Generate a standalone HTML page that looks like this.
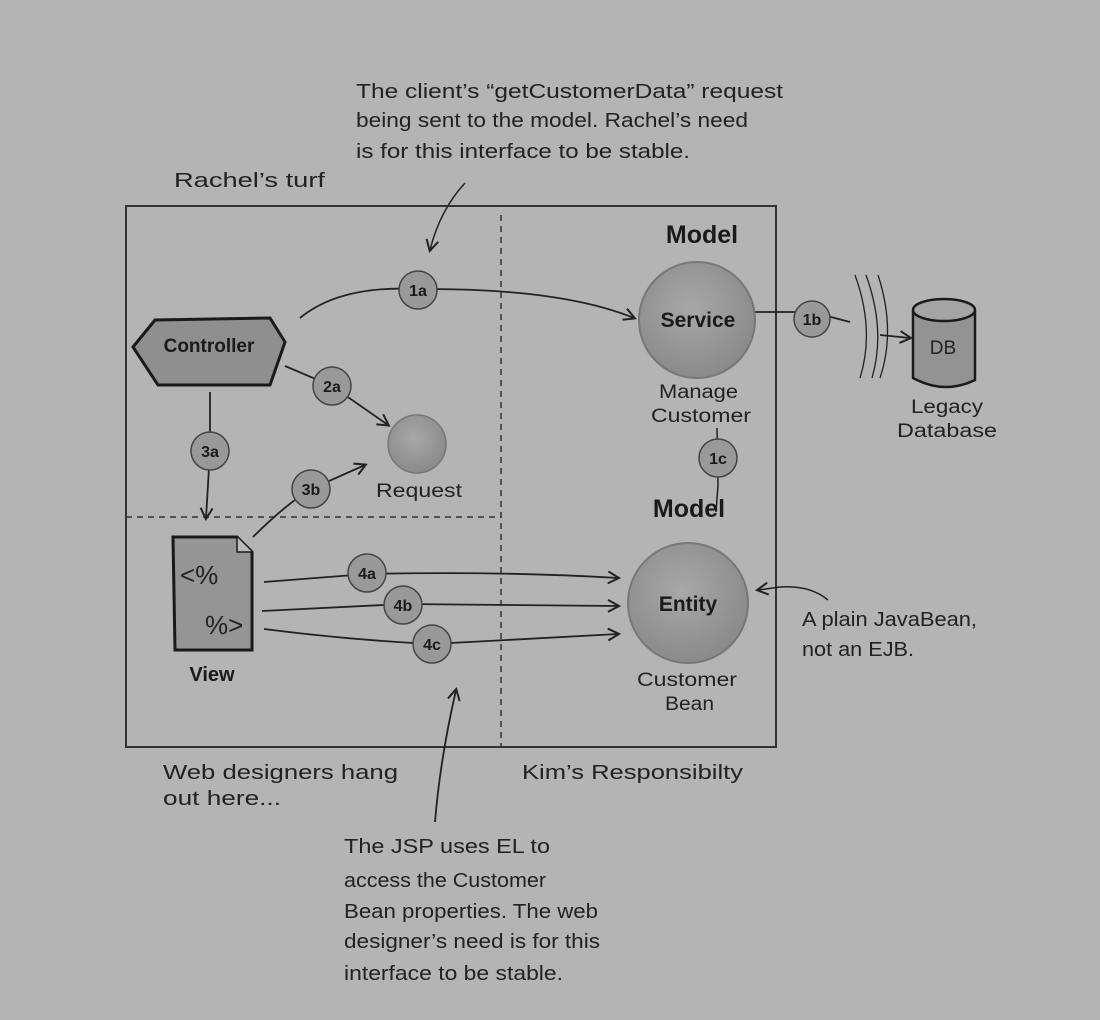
<!DOCTYPE html>
<html><head><style>
html,body{margin:0;padding:0;background:#b4b4b4;}
svg{display:block}
.h{font-family:"Liberation Sans",sans-serif;fill:#222;}
.b{font-family:"Liberation Sans",sans-serif;font-weight:bold;fill:#1a1a1a;}
</style></head><body>
<svg width="1100" height="1020" viewBox="0 0 1100 1020" xmlns="http://www.w3.org/2000/svg">
<defs>
<radialGradient id="g" cx="45%" cy="40%" r="60%"><stop offset="0" stop-color="#a8a8a8"/><stop offset="1" stop-color="#8a8a8a"/></radialGradient>
<marker id="a" markerWidth="14" markerHeight="14" refX="11" refY="7" orient="auto" markerUnits="userSpaceOnUse"><path d="M1,1 L12,7 L1,13" fill="none" stroke="#222" stroke-width="2"/></marker>
</defs>
<rect x="0" y="0" width="1100" height="1020" fill="#b4b4b4"/>
<rect x="126" y="206" width="650" height="541" fill="none" stroke="#333" stroke-width="2"/>
<line x1="501" y1="215" x2="501" y2="747" stroke="#333" stroke-width="1.5" stroke-dasharray="6,5"/>
<line x1="126" y1="517" x2="501" y2="517" stroke="#333" stroke-width="1.5" stroke-dasharray="6,5"/>

<g class="h" font-size="20" lengthAdjust="spacingAndGlyphs">
<text x="356" y="98" textLength="427" lengthAdjust="spacingAndGlyphs">The client’s “getCustomerData” request</text>
<text x="356" y="127" textLength="392" lengthAdjust="spacingAndGlyphs">being sent to the model.  Rachel’s need</text>
<text x="356" y="158" textLength="334" lengthAdjust="spacingAndGlyphs">is for this interface to be stable.</text>
<text x="174" y="187" textLength="151" lengthAdjust="spacingAndGlyphs">Rachel’s turf</text>
<text x="802" y="626" textLength="175" lengthAdjust="spacingAndGlyphs">A plain JavaBean,</text>
<text x="802" y="656" textLength="112" lengthAdjust="spacingAndGlyphs">not an EJB.</text>
<text x="163" y="779" textLength="235" lengthAdjust="spacingAndGlyphs">Web designers hang</text>
<text x="163" y="805" textLength="118" lengthAdjust="spacingAndGlyphs">out here...</text>
<text x="522" y="779" textLength="221" lengthAdjust="spacingAndGlyphs">Kim’s Responsibilty</text>
<text x="344" y="853" textLength="206" lengthAdjust="spacingAndGlyphs">The JSP uses EL to</text>
<text x="344" y="887" textLength="202" lengthAdjust="spacingAndGlyphs">access the Customer</text>
<text x="344" y="918" textLength="254" lengthAdjust="spacingAndGlyphs">Bean properties. The web</text>
<text x="344" y="948" textLength="256" lengthAdjust="spacingAndGlyphs">designer’s need is for this</text>
<text x="344" y="980" textLength="219" lengthAdjust="spacingAndGlyphs">interface to be stable.</text>
</g>
<path d="M465,183 Q440,210 430,250" fill="none" stroke="#222" stroke-width="1.5" marker-end="url(#a)"/>

<path d="M300,318 Q340,285 418,289 Q560,288 634,318" fill="none" stroke="#222" stroke-width="1.8" marker-end="url(#a)"/>
<path d="M285,366 L332,386 L388,425" fill="none" stroke="#222" stroke-width="1.8" marker-end="url(#a)"/>
<path d="M210,392 L210,451 L206,518" fill="none" stroke="#222" stroke-width="1.8" marker-end="url(#a)"/>
<path d="M253,537 Q285,505 311,489 L365,465" fill="none" stroke="#222" stroke-width="1.8" marker-end="url(#a)"/>
<path d="M264,582 L367,574 Q500,571 618,578" fill="none" stroke="#222" stroke-width="1.8" marker-end="url(#a)"/>
<path d="M262,611 L403,604 L618,606" fill="none" stroke="#222" stroke-width="1.8" marker-end="url(#a)"/>
<path d="M264,629 Q350,640 432,644 L618,634" fill="none" stroke="#222" stroke-width="1.8" marker-end="url(#a)"/>
<path d="M755,312 L812,312 L850,322" fill="none" stroke="#222" stroke-width="1.8"/>
<path d="M880,335 L910,338" fill="none" stroke="#222" stroke-width="1.8" marker-end="url(#a)"/>
<path d="M855,275 Q875,330 860,378 M866,275 Q886,330 872,378 M878,275 Q896,330 880,378" fill="none" stroke="#222" stroke-width="1.3"/>
<path d="M717,428 L718,485 L716,512" fill="none" stroke="#222" stroke-width="1.5"/>
<path d="M828,600 Q810,585 780,587 L758,590" fill="none" stroke="#222" stroke-width="1.5" marker-end="url(#a)"/>
<path d="M435,822 Q440,760 456,690" fill="none" stroke="#222" stroke-width="1.8" marker-end="url(#a)"/>

<polygon points="133,347 155,320 270,318 285,342 270,385 158,385" fill="#8f8f8f" stroke="#1a1a1a" stroke-width="3"/>
<text class="b" font-size="19" x="209" y="352" text-anchor="middle">Controller</text>

<circle cx="417" cy="444" r="29" fill="url(#g)" stroke="#777" stroke-width="1.5"/>
<text class="h" font-size="19" x="376" y="497" textLength="86" lengthAdjust="spacingAndGlyphs">Request</text>

<path d="M173,537 L237,537 L252,552 L252,650 L175,650 Z" fill="#959595" stroke="#1a1a1a" stroke-width="3"/>
<path d="M237,537 L237,552 L252,552" fill="#bbb" stroke="#1a1a1a" stroke-width="1.5"/>
<text class="h" font-size="26" x="180" y="584" fill="#111">&lt;%</text>
<text class="h" font-size="26" x="205" y="634" fill="#111">%&gt;</text>
<text class="b" font-size="20" x="212" y="681" text-anchor="middle">View</text>

<text class="b" font-size="25" x="702" y="243" text-anchor="middle">Model</text>
<circle cx="697" cy="320" r="58" fill="url(#g)" stroke="#777" stroke-width="2"/>
<text class="b" font-size="21" x="698" y="327" text-anchor="middle">Service</text>
<text class="h" font-size="19" x="659" y="398" textLength="79" lengthAdjust="spacingAndGlyphs">Manage</text>
<text class="h" font-size="19" x="651" y="422" textLength="100" lengthAdjust="spacingAndGlyphs">Customer</text>

<text class="b" font-size="25" x="689" y="517" text-anchor="middle">Model</text>
<circle cx="688" cy="603" r="60" fill="url(#g)" stroke="#777" stroke-width="2"/>
<text class="b" font-size="21" x="688" y="611" text-anchor="middle">Entity</text>
<text class="h" font-size="19" x="637" y="686" textLength="100" lengthAdjust="spacingAndGlyphs">Customer</text>
<text class="h" font-size="19" x="665" y="710" textLength="49" lengthAdjust="spacingAndGlyphs">Bean</text>

<path d="M913,310 L913,378 Q944,395 975,380 L975,310" fill="#939393" stroke="#1a1a1a" stroke-width="2.5"/>
<ellipse cx="944" cy="310" rx="31" ry="11" fill="#a5a5a5" stroke="#1a1a1a" stroke-width="2.5"/>
<text class="h" font-size="19" x="943" y="354" text-anchor="middle">DB</text>
<text class="h" font-size="19" x="911" y="413" textLength="72" lengthAdjust="spacingAndGlyphs">Legacy</text>
<text class="h" font-size="19" x="897" y="437" textLength="100" lengthAdjust="spacingAndGlyphs">Database</text>

<g fill="#999" stroke="#444" stroke-width="1.5">
<circle cx="418" cy="290" r="19"/><circle cx="332" cy="386" r="19"/><circle cx="210" cy="451" r="19"/><circle cx="311" cy="489" r="19"/>
<circle cx="367" cy="573" r="19"/><circle cx="403" cy="605" r="19"/><circle cx="432" cy="644" r="19"/>
<circle cx="812" cy="319" r="18"/><circle cx="718" cy="458" r="19"/>
</g>
<g class="b" font-size="16" text-anchor="middle">
<text x="418" y="296">1a</text><text x="332" y="392">2a</text><text x="210" y="457">3a</text><text x="311" y="495">3b</text>
<text x="367" y="579">4a</text><text x="403" y="611">4b</text><text x="432" y="650">4c</text>
<text x="812" y="325">1b</text><text x="718" y="464">1c</text>
</g>
</svg>
</body></html>
